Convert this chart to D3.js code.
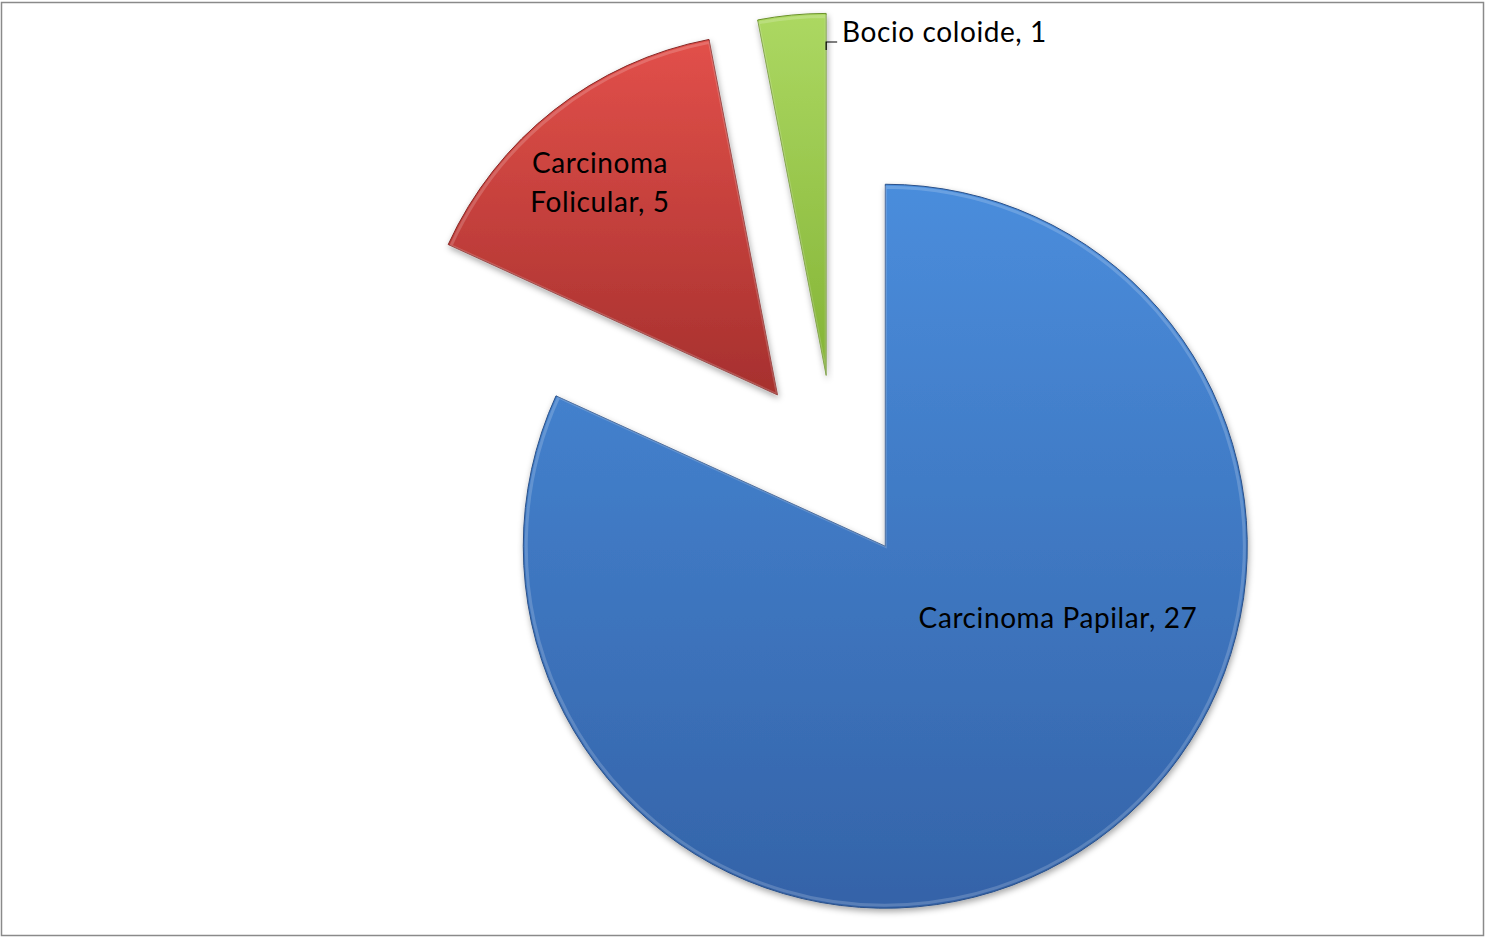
<!DOCTYPE html>
<html>
<head>
<meta charset="utf-8">
<script src="https://cdn.jsdelivr.net/npm/d3@7"></script>
<style>
  body { margin: 0; background: #fff; }
  svg { display: block; }
</style>
</head>
<body>
<div id="chart"></div>
<script>
// data
const categories = ['Carcinoma Papilar', 'Carcinoma Folicular', 'Bocio coloide']
const counts = [27, 5, 1]
const labelLines = [['Carcinoma Papilar, 27'], ['Carcinoma', 'Folicular, 5'], ['Bocio coloide, 1']]

const colorTop = ['#4a8ddc', '#e2504a', '#acd862']
const colorBottom = ['#3463a8', '#a6302e', '#84b436']

const width = 1485
const height = 937
const cx = 835
const cy = 468
const radius = 362
const explode = 93

const svg = d3.select('#chart')
    .append('svg')
    .attr('width', width)
    .attr('height', height)

const defs = svg.append('defs')

// soft shadow under slices
const shadow = defs.append('filter')
    .attr('id', 'shadow')
    .attr('x', '-10%').attr('y', '-10%')
    .attr('width', '120%').attr('height', '120%')
shadow.append('feDropShadow')
    .attr('dx', 1).attr('dy', 3)
    .attr('stdDeviation', 3)
    .attr('flood-color', '#000')
    .attr('flood-opacity', 0.35)

categories.forEach((c, i) => {
    const g = defs.append('linearGradient')
        .attr('id', 'grad' + i)
        .attr('x1', 0).attr('y1', 0)
        .attr('x2', 0).attr('y2', 1)
    g.append('stop').attr('offset', '0%').attr('stop-color', colorTop[i])
    g.append('stop').attr('offset', '100%').attr('stop-color', colorBottom[i])
})

// chart frame
svg.append('rect')
    .attr('x', 1.5).attr('y', 2.5)
    .attr('width', 1482).attr('height', 933)
    .attr('fill', 'none')
    .attr('stroke', '#8a8a8a')
    .attr('stroke-width', 1.5)

const pie = d3.pie().sort(null).value(d => d)
const arcs = pie(counts)

const arc = d3.arc().innerRadius(0).outerRadius(radius)
const innerArc = d3.arc().innerRadius(0).outerRadius(radius - 3)

const offset = d => {
    const mid = (d.startAngle + d.endAngle) / 2
    return [Math.sin(mid) * explode, -Math.cos(mid) * explode]
}

const slices = svg.selectAll('.slice')
    .data(arcs)
    .enter()
    .append('g')
    .attr('class', 'slice')
    .attr('transform', d => {
        const o = offset(d)
        return `translate(${cx + o[0]}, ${cy + o[1]})`
    })

slices.append('path')
    .attr('d', arc)
    .attr('fill', (d, i) => `url(#grad${i})`)
    .attr('stroke', (d, i) => d3.color(colorBottom[i]).darker(0.6))
    .attr('stroke-width', 1)
    .attr('filter', 'url(#shadow)')

// bevel highlight
slices.append('path')
    .attr('d', innerArc)
    .attr('fill', 'none')
    .attr('stroke', '#fff')
    .attr('stroke-opacity', 0.18)
    .attr('stroke-width', 3)

// labels, positions relative to the pie centre
const labelPos = [[223, 160], [-235, -295], [7, -426]]
const labelAnchor = ['middle', 'middle', 'start']

svg.selectAll('.label')
    .data(arcs)
    .enter()
    .append('text')
    .attr('class', 'label')
    .attr('x', (d, i) => cx + labelPos[i][0])
    .attr('y', (d, i) => cy + labelPos[i][1])
    .attr('text-anchor', (d, i) => labelAnchor[i])
    .attr('font-family', 'Lato, "Open Sans", sans-serif')
    .attr('font-size', '28px')
    .attr('letter-spacing', '0.6px')
    .attr('fill', '#000')
    .each(function(d, i) {
        const lines = labelLines[i]
        d3.select(this).selectAll('tspan')
            .data(lines)
            .enter()
            .append('tspan')
            .attr('x', cx + labelPos[i][0])
            .attr('dy', (l, j) => j === 0 ? 0 : 39)
            .text(l => l)
    })

// leader line for the small slice
const small = arcs[2]
const so = offset(small)
const tipX = cx + so[0] + Math.sin(small.endAngle) * radius
svg.append('path')
    .attr('d', `M${tipX},${cy + labelPos[2][1] + 8} V${cy + labelPos[2][1]} H${tipX + 11}`)
    .attr('fill', 'none')
    .attr('stroke', '#000')
    .attr('stroke-width', 1.2)
</script>
</body>
</html>
